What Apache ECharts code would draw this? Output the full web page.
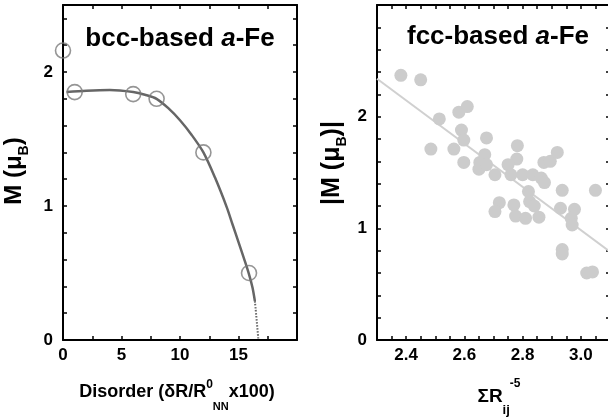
<!DOCTYPE html>
<html><head><meta charset="utf-8">
<script src="https://cdn.jsdelivr.net/npm/echarts@6/dist/echarts.min.js"></script>
<style>html,body{margin:0;padding:0;background:#fff}#c{width:608px;height:417px}</style>
</head><body><div id="c"></div>
<script>
// ---- data ----
const bccX = [0, 1, 6, 8, 12, 15.9];
const bccY = [2.16, 1.85, 1.835, 1.80, 1.40, 0.50];
const bccCurveX = [0.3, 2, 4, 6, 7, 8, 9, 10, 11, 12, 13, 14, 14.5, 15, 15.5, 15.9, 16.2, 16.4];
const bccCurveY = [1.85, 1.86, 1.865, 1.85, 1.83, 1.80, 1.73, 1.64, 1.53, 1.40, 1.21, 0.99, 0.86, 0.73, 0.60, 0.49, 0.39, 0.29];
const bccTailX = [16.4, 16.55, 16.7];
const bccTailY = [0.29, 0.15, 0.0];
const fccX = [2.382, 2.45, 2.514, 2.581, 2.61, 2.485, 2.564, 2.59, 2.598, 2.676, 2.598, 2.653, 2.67, 2.65, 2.676, 2.705,
  2.782, 2.78, 2.75, 2.76, 2.80, 2.835, 2.864, 2.875, 2.873, 2.895, 2.919, 2.82, 2.936, 3.05, 2.72, 2.705, 2.77, 2.776,
  2.81, 2.824, 2.84, 2.856, 2.93, 2.978, 2.967, 2.97, 2.936, 2.936, 3.02, 3.04];
const fccY = [2.37, 2.33, 1.98, 2.04, 2.09, 1.71, 1.71, 1.88, 1.79, 1.81, 1.59, 1.59, 1.66, 1.53, 1.57, 1.48,
  1.74, 1.62, 1.57, 1.48, 1.48, 1.48, 1.45, 1.41, 1.59, 1.60, 1.68, 1.33, 1.34, 1.34, 1.23, 1.15, 1.21, 1.11,
  1.09, 1.24, 1.20, 1.10, 1.18, 1.17, 1.09, 1.03, 0.81, 0.77, 0.60, 0.61];
const fitX = [2.3, 3.1];
const fitY = [2.34, 0.79];
const bccXTicks = [0, 5, 10, 15];
const bccYTicks = [0, 1, 2];
const fccXTicks = [2.4, 2.6, 2.8, 3.0];
const fccYTicks = [0, 1, 2];

const zip = (a, b) => a.map((v, i) => [v, b[i]]);
const FONT = "'Liberation Sans', Arial, Helvetica, sans-serif";
const fmt = (list, d) => v => { const m = list.find(t => Math.abs(t - v) < 1e-6); return m === undefined ? '' : m.toFixed(d); };

function ax(extra, labels) {
  return Object.assign({
    type: 'value',
    axisLine: { show: true, onZero: false, lineStyle: { color: '#000', width: 2 } },
    axisTick: { show: true, inside: true, length: 4, lineStyle: { color: '#000', width: 1.5 } },
    splitLine: { show: false },
    axisLabel: labels ? Object.assign({ show: true, color: '#000', fontSize: 17, fontWeight: 'bold', fontFamily: FONT }, labels) : { show: false }
  }, extra);
}

const chart = echarts.init(document.getElementById('c'), null, { renderer: 'canvas' });
const tStyle = (size, extra) => Object.assign({ fontSize: size, fontWeight: 'bold', fontFamily: FONT, fill: '#000' }, extra || {});

chart.setOption({
  animation: false,
  backgroundColor: '#fff',
  grid: [
    { left: 63, top: 5, width: 234, height: 335, outerBoundsMode: 'none', containLabel: false },
    { left: 377, top: 5, width: 233, height: 335, outerBoundsMode: 'none', containLabel: false }
  ],
  xAxis: [
    ax({ gridIndex: 0, position: 'bottom', min: 0, max: 20, interval: 2.5 }, { formatter: fmt(bccXTicks, 0), margin: 7 }),
    ax({ gridIndex: 0, position: 'top', min: 0, max: 20, interval: 2.5 }),
    ax({ gridIndex: 1, position: 'bottom', min: 2.3, max: 3.1, interval: 0.05 }, { formatter: fmt(fccXTicks, 1), margin: 7 }),
    ax({ gridIndex: 1, position: 'top', min: 2.3, max: 3.1, interval: 0.05 })
  ],
  yAxis: [
    ax({ gridIndex: 0, position: 'left', min: 0, max: 2.5, interval: 0.2 }, { formatter: fmt(bccYTicks, 0), margin: 10 }),
    ax({ gridIndex: 0, position: 'right', min: 0, max: 2.5, interval: 0.2 }),
    ax({ gridIndex: 1, position: 'left', min: 0, max: 3, interval: 0.2 }, { formatter: fmt(fccYTicks, 0), margin: 10 }),
    ax({ gridIndex: 1, position: 'right', min: 0, max: 3, interval: 0.2 })
  ],
  series: [
    { type: 'line', xAxisIndex: 0, yAxisIndex: 0, data: zip(bccCurveX, bccCurveY), smooth: 0.3, showSymbol: false,
      lineStyle: { color: '#666', width: 2.5 }, z: 2 },
    { type: 'line', xAxisIndex: 0, yAxisIndex: 0, data: zip(bccTailX, bccTailY), smooth: true, showSymbol: false,
      lineStyle: { color: '#666', width: 2, type: [1.5, 1.5] }, z: 2 },
    { type: 'scatter', xAxisIndex: 0, yAxisIndex: 0, data: zip(bccX, bccY), symbol: 'circle', symbolSize: 15, clip: false,
      itemStyle: { color: 'rgba(0,0,0,0)', borderColor: '#7a7a7a', borderWidth: 1.6 }, z: 3 },
    { type: 'line', xAxisIndex: 2, yAxisIndex: 2, data: zip(fitX, fitY), showSymbol: false,
      lineStyle: { color: '#d0d0d0', width: 2 }, z: 2 },
    { type: 'scatter', xAxisIndex: 2, yAxisIndex: 2, data: zip(fccX, fccY), symbol: 'circle', symbolSize: 13,
      itemStyle: { color: '#cccccc', opacity: 1 }, z: 3 }
  ],
  graphic: [
    { type: 'text', x: 180, y: 38.4, z: 10, style: { text: '{b|bcc-based }{i|a}{b|-Fe}', align: 'center', verticalAlign: 'middle',
      rich: { b: tStyle(26, { lineHeight: 30, verticalAlign: 'middle' }), i: tStyle(26, { fontStyle: 'italic', lineHeight: 30, verticalAlign: 'middle' }) } } },
    { type: 'text', x: 498, y: 36.7, z: 10, style: { text: '{b|fcc-based }{i|a}{b|-Fe}', align: 'center', verticalAlign: 'middle',
      rich: { b: tStyle(26, { lineHeight: 30, verticalAlign: 'middle' }), i: tStyle(26, { fontStyle: 'italic', lineHeight: 30, verticalAlign: 'middle' }) } } },
    { type: 'text', x: 177, y: 392.5, z: 10, style: { text: '{n|Disorder (δR/R}{sup|0}{sub|NN}{n|x100)}', align: 'center', verticalAlign: 'middle',
      rich: { n: tStyle(18, { lineHeight: 40, verticalAlign: 'middle' }), sup: tStyle(12, { padding: [6, 0, 0, 0], verticalAlign: 'top' }), sub: tStyle(11, { lineHeight: 7.4, verticalAlign: 'bottom' }) } } },
    { type: 'text', x: 499, y: 397.2, z: 10, style: { text: '{n|ΣR}{sub|ij}{sup|-5}', align: 'center', verticalAlign: 'middle',
      rich: { n: tStyle(19, { lineHeight: 40, verticalAlign: 'middle' }), sup: tStyle(12, { lineHeight: 13, verticalAlign: 'top' }), sub: tStyle(13, { lineHeight: 20, verticalAlign: 'bottom' }) } } },
    { type: 'text', x: 14, y: 171, rotation: Math.PI / 2, z: 10, style: { text: '{n|M (μ}{sub|B}{n|)}', align: 'center', verticalAlign: 'middle',
      rich: { n: tStyle(24, { lineHeight: 34, verticalAlign: 'middle' }), sub: tStyle(14, { lineHeight: 17.6, verticalAlign: 'bottom' }) } } },
    { type: 'text', x: 332, y: 163, rotation: Math.PI / 2, z: 10, style: { text: '{n||M (μ}{sub|B}{n|)|}', align: 'center', verticalAlign: 'middle',
      rich: { n: tStyle(25, { lineHeight: 34, verticalAlign: 'middle' }), sub: tStyle(14, { lineHeight: 17.6, verticalAlign: 'bottom' }) } } }
  ]
});
</script></body></html>
